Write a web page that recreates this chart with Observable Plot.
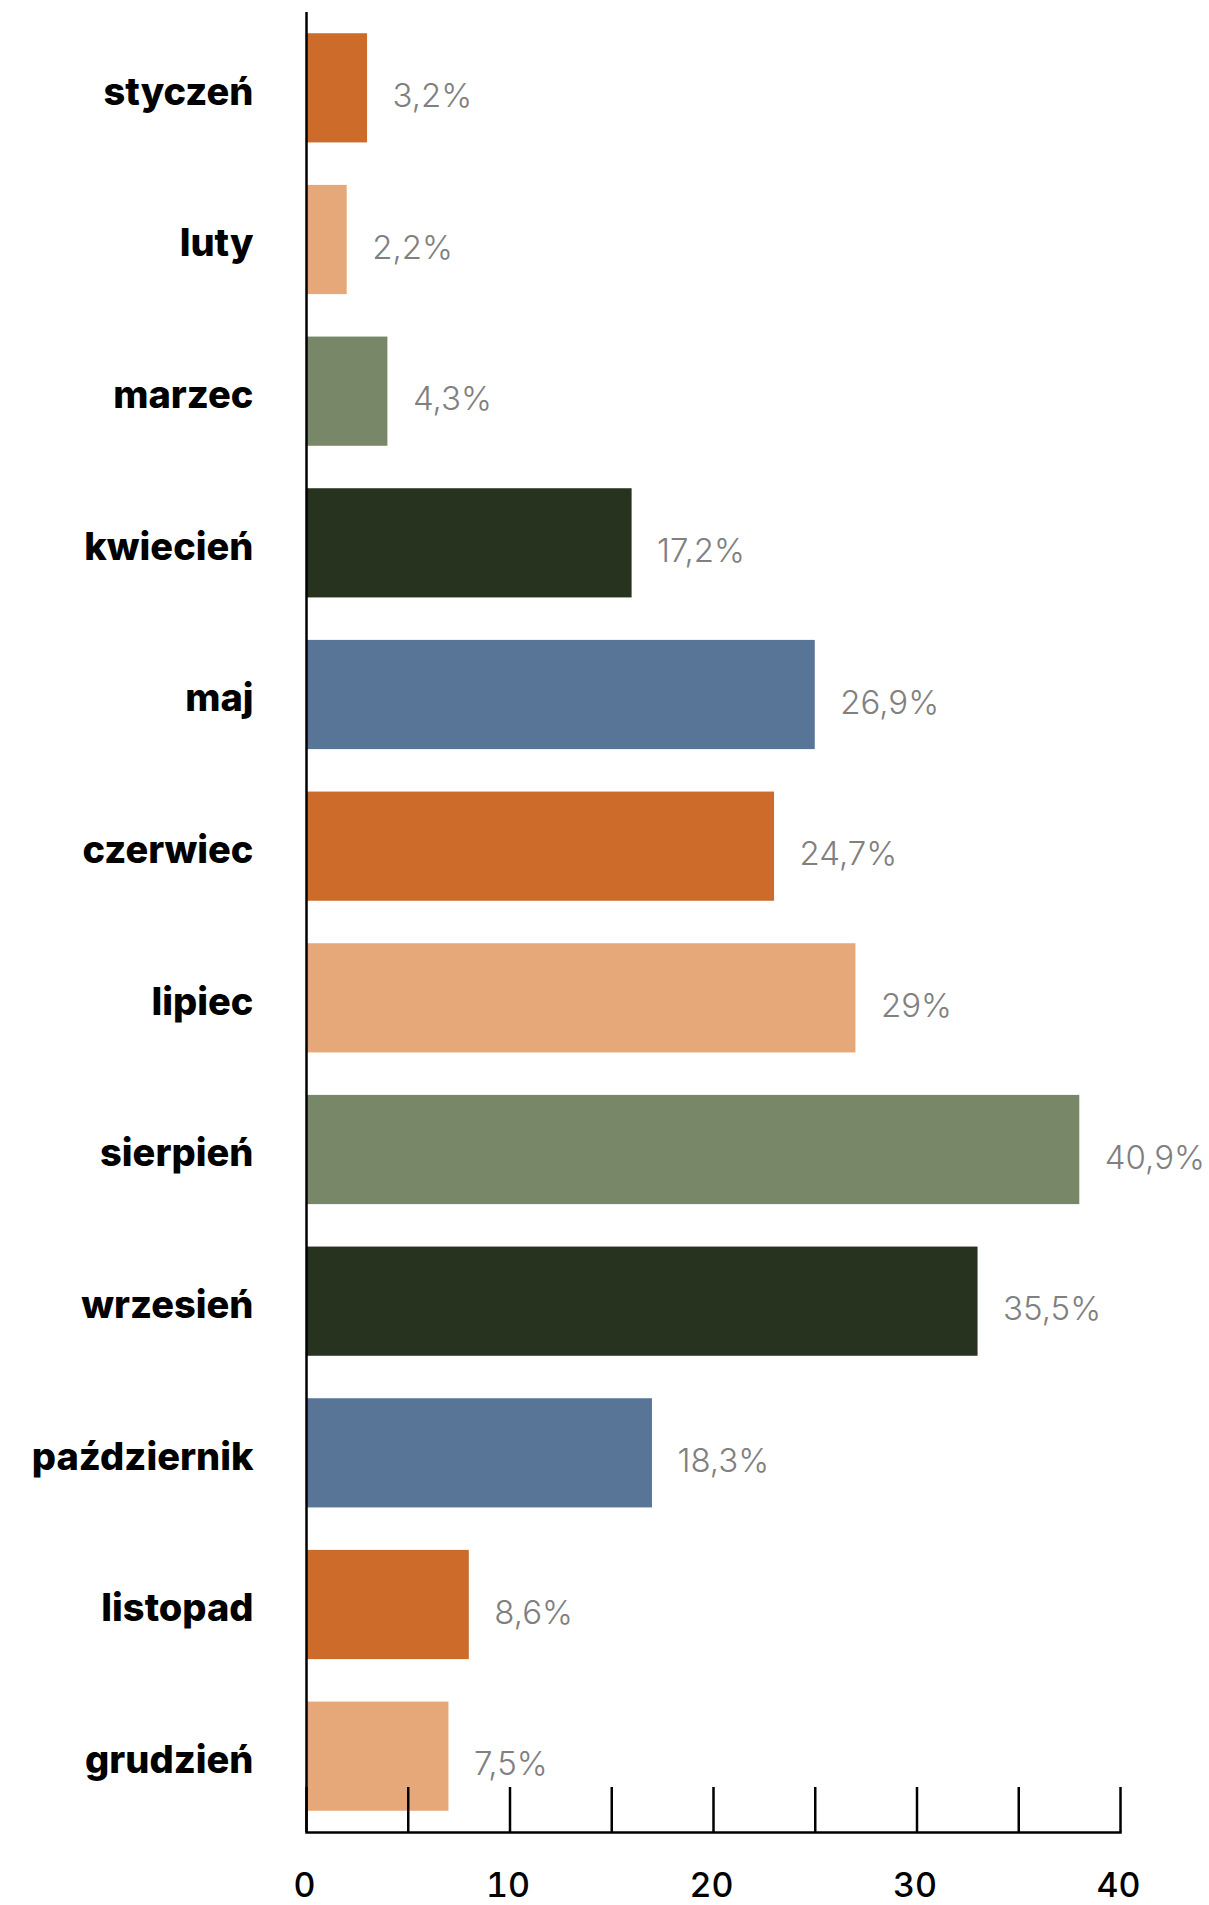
<!DOCTYPE html>
<html>
<head>
<meta charset="utf-8">
<script src="https://cdn.jsdelivr.net/npm/d3@7"></script>
<script src="https://cdn.jsdelivr.net/npm/@observablehq/plot@0.6"></script>
<style>
  html, body { margin: 0; padding: 0; background: #fff; }
  #chart svg { display: block; }
</style>
</head>
<body>
<div id="chart"></div>
<script>
const months = ["styczeń", "luty", "marzec", "kwiecień", "maj", "czerwiec", "lipiec", "sierpień", "wrzesień", "październik", "listopad", "grudzień"];
const counts = [3, 2, 4, 16, 25, 23, 27, 38, 33, 17, 8, 7];
const pctLabels = ["3,2%", "2,2%", "4,3%", "17,2%", "26,9%", "24,7%", "29%", "40,9%", "35,5%", "18,3%", "8,6%", "7,5%"];
const palette = ["#CD6B2B", "#E6A878", "#798769", "#28331F", "#587598"];
const xTickLabels = [0, 10, 20, 30, 40];
const xTickMarks = [0, 5, 10, 15, 20, 25, 30, 35, 40];

const data = months.map((m, i) => ({month: m, count: counts[i], pct: pctLabels[i]}));

const W = 1209, H = 1905;
const mTop = 12, mBottom = 73, mLeft = 306, mRight = 89;
const frameH = H - mTop - mBottom;

const chart = Plot.plot({
  width: W,
  height: H,
  marginTop: mTop,
  marginBottom: mBottom,
  marginLeft: mLeft,
  marginRight: mRight,
  style: {fontFamily: "Inter, 'Open Sans', sans-serif", background: "#fff", color: "#000"},
  x: {domain: [0, 40], label: null},
  y: {domain: months, paddingInner: 0.28, paddingOuter: 0.14, round: false, label: null},
  color: {type: "ordinal", domain: months, range: months.map((_, i) => palette[i % palette.length])},
  marks: [
    Plot.barX(data, {x: "count", y: "month", fill: "month"}),
    Plot.text(data, {
      x: "count", y: "month", text: "pct",
      textAnchor: "start", dx: 25, dy: 8,
      fontSize: 33, fontWeight: 300, fill: "#808080"
    }),
    Plot.ruleX([0], {stroke: "#000", strokeWidth: 2.5}),
    Plot.ruleX(xTickMarks, {stroke: "#000", strokeWidth: 2.5, insetTop: frameH - 45}),
    Plot.frame({anchor: "bottom", stroke: "#000", strokeWidth: 2.5}),
    Plot.axisY({tickSize: 0, tickPadding: 53, fontSize: 38, fontWeight: 800, fill: "#000", dy: 4, label: null}),
    Plot.axisX({ticks: xTickLabels, tickSize: 0, tickPadding: 40, fontSize: 34, fontWeight: 500, fill: "#000", dx: -2, label: null})
  ]
});
document.getElementById("chart").appendChild(chart);
</script>
</body>
</html>
